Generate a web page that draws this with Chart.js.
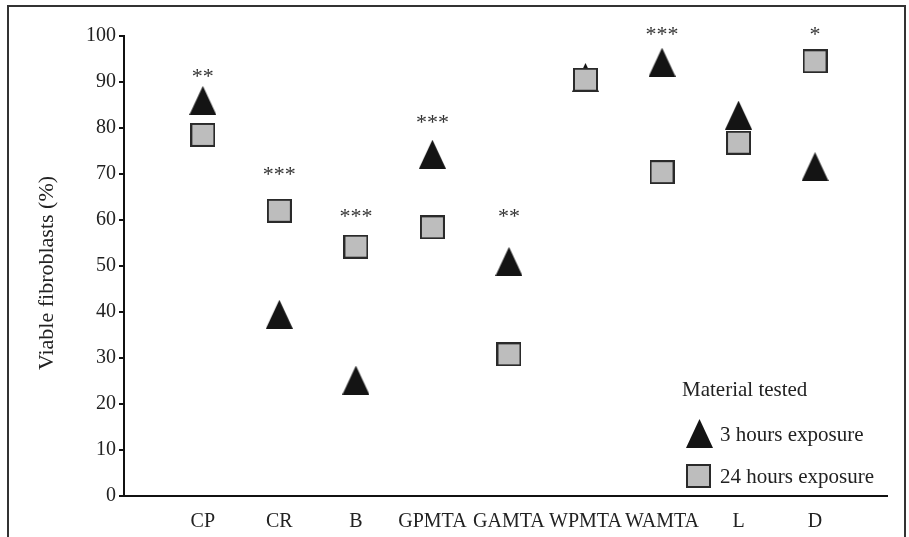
<!DOCTYPE html>
<html>
<head>
<meta charset="utf-8">
<script src="https://cdn.jsdelivr.net/npm/chart.js@4.4.1/dist/chart.umd.min.js"></script>
<style>
  html, body { margin: 0; padding: 0; background: #fff; }
  #wrap { width: 909px; height: 537px; }
</style>
</head>
<body>
<div id="wrap"><canvas id="chart" width="909" height="537"></canvas></div>
<script>
const materials = ['CP', 'CR', 'B', 'GPMTA', 'GAMTA', 'WPMTA', 'WAMTA', 'L', 'D'];
const exposure3h = [86, 39.5, 25.2, 74.3, 51, 91, 94.3, 82.8, 71.6];
const exposure24h = [78.5, 62, 54.2, 58.4, 30.8, 90.5, 70.4, 76.8, 94.5];
const sigLabels = ['**', '***', '***', '***', '**', '', '***', '', '*'];
const sigY = [92.2, 70.9, 61.7, 82.2, 61.7, null, 101.3, null, 101.3];
const yTicks = [0, 10, 20, 30, 40, 50, 60, 70, 80, 90, 100];

const serif = "'Liberation Serif', 'Times New Roman', serif";

// marker images
function makeTriangle() {
  const c = document.createElement('canvas');
  c.width = 27; c.height = 29;
  const g = c.getContext('2d');
  g.fillStyle = '#141414';
  g.beginPath();
  g.moveTo(13.5, 0);
  g.lineTo(27, 29);
  g.lineTo(0, 29);
  g.closePath();
  g.fill();
  return c;
}
function makeSquare() {
  const c = document.createElement('canvas');
  c.width = 25; c.height = 24;
  const g = c.getContext('2d');
  g.fillStyle = '#bdbdbd';
  g.fillRect(0, 0, 25, 24);
  g.strokeStyle = '#2a2a2a';
  g.lineWidth = 2;
  g.strokeRect(1, 1, 23, 22);
  return c;
}
const triImg = makeTriangle();
const sqImg = makeSquare();

const extras = {
  id: 'extras',
  afterDraw(chart) {
    const ctx = chart.ctx;
    const xs = chart.scales.x, ys = chart.scales.y;
    ctx.save();
    // frame
    ctx.strokeStyle = '#333';
    ctx.lineWidth = 2;
    ctx.beginPath();
    ctx.moveTo(8, 537);
    ctx.lineTo(8, 6);
    ctx.lineTo(905, 6);
    ctx.lineTo(905, 537);
    ctx.stroke();

    // y title
    ctx.fillStyle = '#222';
    ctx.font = '22px ' + serif;
    ctx.textAlign = 'center';
    ctx.textBaseline = 'middle';
    ctx.translate(47, 273);
    ctx.rotate(-Math.PI / 2);
    ctx.fillText('Viable fibroblasts (%)', 0, 0);
    ctx.setTransform(1, 0, 0, 1, 0, 0);

    // significance asterisks
    ctx.font = '22px ' + serif;
    ctx.fillStyle = '#333';
    sigLabels.forEach((s, i) => {
      if (!s) return;
      ctx.fillText(s, xs.getPixelForValue(i + 1), ys.getPixelForValue(sigY[i]) + 5);
    });

    // legend
    ctx.fillStyle = '#222';
    ctx.textAlign = 'left';
    ctx.font = '21px ' + serif;
    ctx.fillText('Material tested', 682, 390);
    ctx.drawImage(triImg, 686, 419);
    ctx.fillText('3 hours exposure', 720, 435);
    ctx.drawImage(sqImg, 686, 464);
    ctx.fillText('24 hours exposure', 720, 477);
    ctx.restore();
  }
};

new Chart(document.getElementById('chart'), {
  type: 'scatter',
  data: {
    datasets: [
      {
        label: '3 hours exposure',
        data: exposure3h.map((v, i) => ({ x: i + 1, y: v })),
        pointStyle: triImg,
        order: 1
      },
      {
        label: '24 hours exposure',
        data: exposure24h.map((v, i) => ({ x: i + 1, y: v })),
        pointStyle: sqImg,
        order: 0
      }
    ]
  },
  options: {
    responsive: false,
    animation: false,
    layout: { padding: { left: 0, top: 36, right: 22, bottom: 0 } },
    plugins: {
      legend: { display: false },
      tooltip: { enabled: false }
    },
    scales: {
      x: {
        type: 'linear',
        min: -0.03,
        max: 9.94,
        afterBuildTicks: scale => { scale.ticks = materials.map((m, i) => ({ value: i + 1 })); },
        afterFit: scale => { scale.height = 41; },
        grid: { display: false },
        border: { display: true, color: '#111', width: 2 },
        ticks: {
          color: '#222',
          padding: 6,
          font: { family: serif, size: 20 },
          callback: v => materials[v - 1] || ''
        }
      },
      y: {
        min: 0,
        max: 100,
        afterBuildTicks: scale => { scale.ticks = yTicks.map(v => ({ value: v })); },
        afterFit: scale => { scale.width = 124; },
        grid: { drawOnChartArea: false, drawTicks: true, tickLength: 5, color: '#111', lineWidth: 2 },
        border: { display: true, color: '#111', width: 2 },
        ticks: {
          color: '#222',
          padding: 3,
          font: { family: serif, size: 20 }
        }
      }
    }
  },
  plugins: [extras]
});
</script>
</body>
</html>
